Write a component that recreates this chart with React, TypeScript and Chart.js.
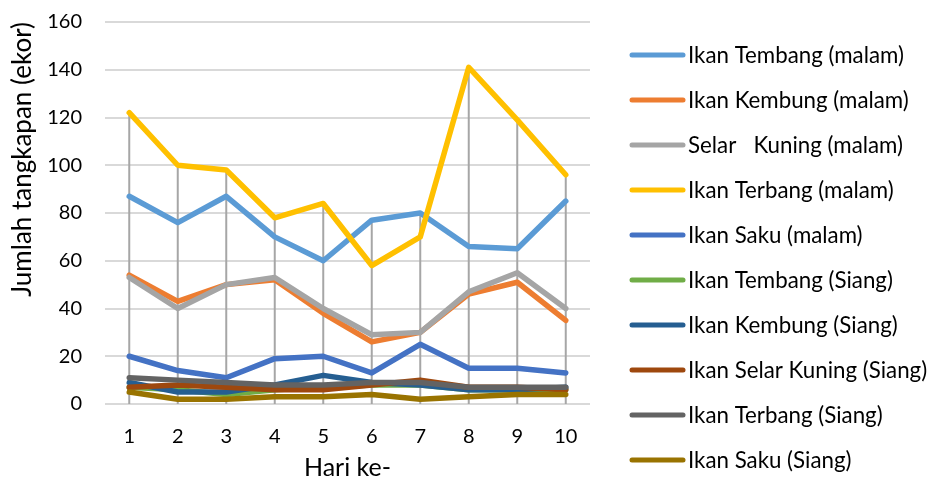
import { useEffect, useRef } from 'react';
import { Chart, registerables } from 'chart.js';

Chart.register(...registerables);

const days = ['1', '2', '3', '4', '5', '6', '7', '8', '9', '10'];

const tembangMalam = [87, 76, 87, 70, 60, 77, 80, 66, 65, 85];
const kembungMalam = [54, 43, 50, 52, 38, 26, 30, 46, 51, 35];
const selarMalam = [53, 40, 50, 53, 40, 29, 30, 47, 55, 40];
const terbangMalam = [122, 100, 98, 78, 84, 58, 70, 141, 119, 96];
const sakuMalam = [20, 14, 11, 19, 20, 13, 25, 15, 15, 13];
const tembangSiang = [7, 6, 4, 6, 7, 8, 8, 6, 6, 6];
const kembungSiang = [9, 5, 5, 8, 12, 9, 8, 6, 6, 7];
const selarSiang = [7, 8, 7, 6, 6, 8, 10, 7, 7, 6];
const terbangSiang = [11, 10, 9, 8, 8, 9, 9, 7, 7, 7];
const sakuSiang = [5, 2, 2, 3, 3, 4, 2, 3, 4, 4];

const seriesNames = [
  'Ikan Tembang (malam)',
  'Ikan Kembung (malam)',
  'Selar   Kuning (malam)',
  'Ikan Terbang (malam)',
  'Ikan Saku (malam)',
  'Ikan Tembang (Siang)',
  'Ikan Kembung (Siang)',
  'Ikan Selar Kuning (Siang)',
  'Ikan Terbang (Siang)',
  'Ikan Saku (Siang)',
];
const seriesValues = [
  tembangMalam, kembungMalam, selarMalam, terbangMalam, sakuMalam,
  tembangSiang, kembungSiang, selarSiang, terbangSiang, sakuSiang,
];
const seriesColors = [
  '#5B9BD5', '#ED7D31', '#A5A5A5', '#FFC000', '#4472C4',
  '#70AD47', '#255E91', '#9E480E', '#636363', '#997300',
];

const yTicks = [0, 20, 40, 60, 80, 100, 120, 140, 160];

const FONT = 'Lato';

const dropLines = {
  id: 'dropLines',
  beforeDatasetsDraw(chart: any) {
    const { ctx, scales, chartArea } = chart;
    const x = scales.x;
    const y = scales.y;
    ctx.save();
    ctx.strokeStyle = '#A6A6A6';
    ctx.lineWidth = 2;
    days.forEach((_, i) => {
      const top = Math.max(...seriesValues.map((s) => s[i]));
      const px = x.getPixelForValue(i);
      ctx.beginPath();
      ctx.moveTo(px, y.getPixelForValue(top));
      ctx.lineTo(px, chartArea.bottom);
      ctx.stroke();
    });
    ctx.restore();
  },
};

const sideLegend = {
  id: 'sideLegend',
  afterDraw(chart: any) {
    const { ctx, chartArea } = chart;
    const x0 = chartArea.right + 42;
    const firstY = 55;
    const step = 45;
    ctx.save();
    ctx.font = `22.3px ${FONT}`;
    ctx.textBaseline = 'middle';
    ctx.textAlign = 'left';
    chart.data.datasets.forEach((d: any, i: number) => {
      const yc = firstY + i * step;
      ctx.strokeStyle = d.borderColor;
      ctx.lineWidth = 5;
      ctx.lineCap = 'round';
      ctx.beginPath();
      ctx.moveTo(x0, yc);
      ctx.lineTo(x0 + 51, yc);
      ctx.stroke();
      ctx.fillStyle = '#000';
      ctx.fillText(d.label, x0 + 56, yc + 1);
    });
    ctx.restore();
  },
};

export default function App() {
  const ref = useRef<HTMLCanvasElement>(null);
  useEffect(() => {
    if (!ref.current) return;
    const chart = new Chart(ref.current, {
      type: 'line',
      data: {
        labels: days,
        datasets: seriesNames.map((name, i) => ({
          label: name,
          data: seriesValues[i],
          borderColor: seriesColors[i],
          backgroundColor: seriesColors[i],
          borderWidth: 5.5,
          pointRadius: 0,
          pointHoverRadius: 0,
          tension: 0,
          borderCapStyle: 'round',
          borderJoinStyle: 'round',
          order: 100 - i,
        })),
      },
      options: {
        responsive: false,
        animation: false,
        layout: { padding: { left: 3, top: 22, right: 338, bottom: 0 } },
        plugins: {
          tooltip: { enabled: false },
          legend: { display: false },
        },
        scales: {
          x: {
            type: 'category',
            offset: true,
            grid: { display: false, drawTicks: false },
            border: { display: false },
            ticks: { padding: 21, color: '#000', font: { family: FONT, size: 20 } },
            title: {
              display: true,
              text: 'Hari ke-',
              color: '#000',
              font: { family: FONT, size: 25 },
              padding: { top: 0, bottom: 2 },
            },
            afterFit: (s: any) => {
              s.height = 81;
              s.paddingLeft = 0;
              s.paddingRight = 0;
            },
          },
          y: {
            min: 0,
            max: 160,
            afterBuildTicks: (s: any) => { s.ticks = yTicks.map((v) => ({ value: v })); },
            grid: { color: '#D9D9D9', lineWidth: 2, drawTicks: false },
            border: { display: false },
            ticks: { padding: 23, color: '#000', font: { family: FONT, size: 20 } },
            title: {
              display: true,
              text: 'Jumlah tangkapan (ekor)',
              align: 'end',
              color: '#000',
              font: { family: FONT, size: 26 },
              padding: { top: 4, bottom: 4 },
            },
            afterFit: (s: any) => {
              s.width = 102;
              s.paddingTop = 0;
              s.paddingBottom = 0;
            },
          },
        },
      },
      plugins: [dropLines, sideLegend],
    });
    return () => chart.destroy();
  }, []);
  return (
    <div style={{ position: 'absolute', left: 0, top: 0, width: 928, height: 485 }}>
      <canvas ref={ref} width={928} height={485} style={{ display: 'block' }} />
    </div>
  );
}
